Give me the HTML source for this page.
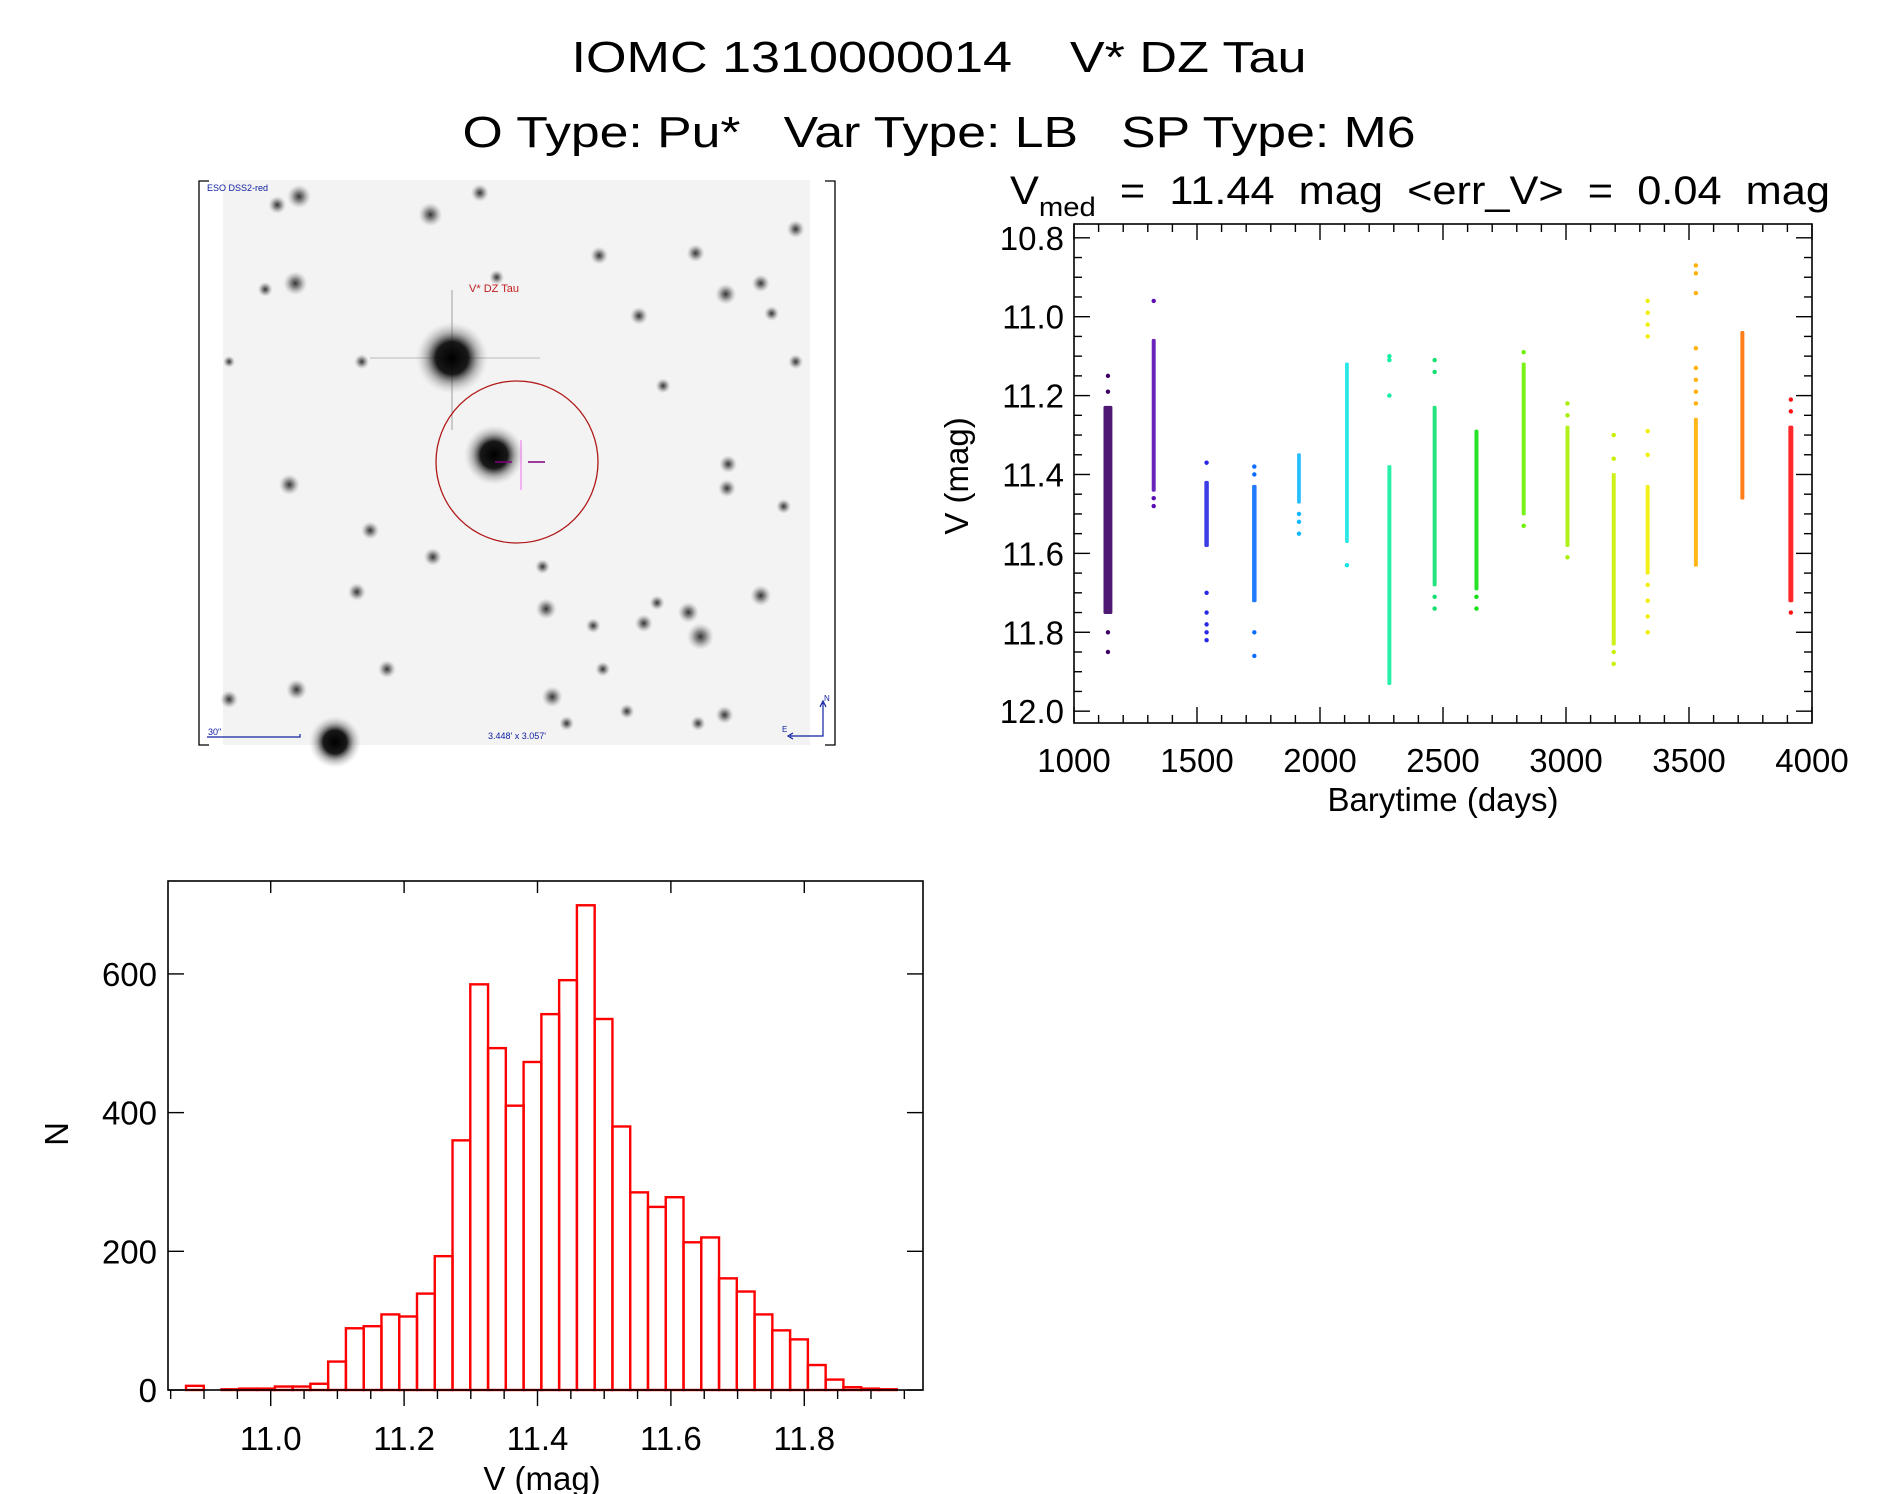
<!DOCTYPE html>
<html><head><meta charset="utf-8"><style>
html,body{margin:0;padding:0;background:#fff;}
svg{display:block;font-family:"Liberation Sans",sans-serif;}
text{white-space:pre;}
</style></head><body>
<svg id="root" width="1889" height="1494" viewBox="0 0 1889 1494" xmlns="http://www.w3.org/2000/svg" xml:space="preserve">
<defs>
<radialGradient id="star"><stop offset="0" stop-color="#111" stop-opacity="0.85"/><stop offset="0.4" stop-color="#333" stop-opacity="0.55"/><stop offset="1" stop-color="#999" stop-opacity="0"/></radialGradient>
<radialGradient id="bstar"><stop offset="0" stop-color="#000" stop-opacity="1"/><stop offset="0.45" stop-color="#000" stop-opacity="0.9"/><stop offset="0.7" stop-color="#444" stop-opacity="0.4"/><stop offset="1" stop-color="#aaa" stop-opacity="0"/></radialGradient>
</defs>
<rect width="1889" height="1494" fill="#fff"/>
<text x="939" y="72" text-anchor="middle" font-size="44" textLength="735" lengthAdjust="spacingAndGlyphs">IOMC 1310000014    V* DZ Tau</text>
<text x="939" y="147" text-anchor="middle" font-size="44" textLength="953" lengthAdjust="spacingAndGlyphs">O Type: Pu*   Var Type: LB   SP Type: M6</text>

<g id="img"></g>
<g id="lc"></g>
<g id="hist"></g>
</svg>
<script>
// ---------- Light curve data ----------
const seasonStart = [1126,1322,1536,1730,1913,2108,2280,2464,2634,2826,3004,3192,3330,3526,3715,3910];
const seasonEnd   = [1150,1326,1542,1736,1916,2111,2284,2468,2638,2830,3008,3196,3334,3530,3719,3918];
const coreLo = [11.23,11.06,11.42,11.43,11.35,11.12,11.38,11.23,11.29,11.12,11.28,11.40,11.43,11.26,11.04,11.28];
const coreHi = [11.75,11.44,11.58,11.72,11.47,11.57,11.93,11.68,11.69,11.50,11.58,11.83,11.65,11.63,11.46,11.72];
const outliers = [
  [11.15,11.19,11.80,11.85],
  [10.96,11.46,11.48],
  [11.37,11.70,11.75,11.78,11.80,11.82],
  [11.38,11.40,11.80,11.86],
  [11.50,11.52,11.55],
  [11.63],
  [11.10,11.11,11.20],
  [11.11,11.14,11.71,11.74],
  [11.71,11.74],
  [11.09,11.53],
  [11.22,11.25,11.61],
  [11.30,11.36,11.85,11.88],
  [10.96,10.99,11.02,11.05,11.29,11.35,11.68,11.72,11.76,11.80],
  [10.87,10.89,10.94,11.08,11.13,11.16,11.19,11.22],
  [],
  [11.21,11.24,11.75]
];
const seasonColors = ["#3c0064","#5a0cb4","#2828e6","#0a6cff","#10b8ff","#10e4e4","#10f0a0","#10e070","#10e010","#6cf000","#a8f000","#c8f000","#f0f000","#ffb000","#ff7000","#ff1010"];
const lcXTicks = [1000,1500,2000,2500,3000,3500,4000];
const lcYTicks = [10.8,11.0,11.2,11.4,11.6,11.8,12.0];

// ---------- Histogram data ----------
const histStart = 10.873, histBin = 0.02664;
const histCounts = [6,0,1,2,2,5,5,9,41,89,92,109,106,139,193,360,585,493,410,473,542,591,699,535,380,285,264,278,213,220,161,142,109,86,73,36,15,4,2,1];
const histXTicks = [11.0,11.2,11.4,11.6,11.8];
const histYTicks = [0,200,400,600];

const NS="http://www.w3.org/2000/svg";
function mk(parent,tag,attrs,txt){const e=document.createElementNS(NS,tag);for(const k in attrs)e.setAttribute(k,attrs[k]);if(txt!==undefined)e.textContent=txt;parent.appendChild(e);return e;}

// ---------- Sky image ----------
(function(){
  const g=document.getElementById('img');
  const S=1.2056;
  const bg=mk(g,'rect',{x:223,y:180,width:587,height:565,fill:'#f3f3f3'});
  
  
  const stars=[[248,163,8],[357,178,8],[398,160,6],[245,235,8],[602,244,7],[631,235,6],[530,262,6],[497,212,6],[577,210,6],[660,190,6],[240,402,7],[603,405,6],[604,385,6],[307,440,6],[453,505,7],[581,528,9],[571,508,7],[534,517,6],[631,494,7],[458,578,7],[246,572,7],[359,462,6],[296,491,6],[190,580,6],[601,593,6],[579,600,5],[545,500,5],[321,555,6],[500,555,5],[492,519,5],[550,320,5],[640,260,5],[300,300,5],[220,240,5],[190,300,4],[660,300,5],[230,170,6],[412,230,5],[650,420,5],[450,470,5],[520,590,5],[470,600,5]];
  stars.forEach(s=>{const c=mk(g,'circle',{cx:s[0]*S,cy:s[1]*S,r:s[2]*1.5,fill:'url(#star)'});
    
    });
  mk(g,'line',{x1:452,y1:290,x2:452,y2:430,stroke:'#bbb','stroke-width':1.5});
  mk(g,'line',{x1:370,y1:358,x2:540,y2:358,stroke:'#ccc','stroke-width':1.5});
  [[452,358,36],[494,455,30],[335,742,26]].forEach(s=>{
    const c=mk(g,'circle',{cx:s[0],cy:s[1],r:s[2],fill:'url(#bstar)'});
    
    });
  const circ=mk(g,'ellipse',{cx:517,cy:462,rx:81,ry:81,fill:'none',stroke:'#b01818','stroke-width':1.3});
  
  
  mk(g,'line',{x1:521,y1:440,x2:521,y2:490,stroke:'#f070f0','stroke-width':1});
  mk(g,'line',{x1:495,y1:462,x2:512,y2:462,stroke:'#800080','stroke-width':1.5});
  mk(g,'line',{x1:528,y1:462,x2:545,y2:462,stroke:'#800080','stroke-width':1.5});
  const t1=mk(g,'text',{x:207,y:191,'font-size':9,fill:'#1020a0'},'ESO DSS2-red');
  
  
  const t2=mk(g,'text',{x:494,y:292,'font-size':11,fill:'#c02020','text-anchor':'middle'},'V* DZ Tau');
  
  
  const t3=mk(g,'text',{x:517,y:739,'font-size':9,fill:'#1020a0','text-anchor':'middle'},"3.448' x 3.057'");
  
  
  const t4=mk(g,'text',{x:208,y:735,'font-size':9,fill:'#1020a0'},'30"');
  
  
  mk(g,'path',{d:'M207,737 H300 V734',fill:'none',stroke:'#1020a0','stroke-width':1.2});
  mk(g,'path',{d:'M790,736 H823 V703 M820,707 L823,701 L826,707 M793,733 L788,736 L793,739',fill:'none',stroke:'#1020a0','stroke-width':1.2});
  mk(g,'text',{x:824,y:701,'font-size':8,fill:'#1020a0'},'N');
  mk(g,'text',{x:782,y:732,'font-size':8,fill:'#1020a0'},'E');
  const fr=mk(g,'path',{d:'M209,181 H199 V745 H209 M825,181 H835 V745 H825',fill:'none',stroke:'#000','stroke-width':1.3});
  
  
})();

// ---------- Light curve ----------
(function(){
  const g=document.getElementById('lc');
  const L=1074,R=1812,T=224,B=723;
  const x0=1000,x1=4000,y0=10.765,y1=12.03;
  const X=v=>L+(v-x0)/(x1-x0)*(R-L);
  const Y=v=>T+(v-y0)/(y1-y0)*(B-T);
  const tt=mk(g,'text',{x:1010,y:204,'font-size':40},'');
  
  
  tt.innerHTML='V<tspan font-size="27" dy="12">med</tspan><tspan dy="-12">  =  11.44  mag  &lt;err_V&gt;  =  0.04  mag</tspan>';
  tt.setAttribute('textLength','820');
  tt.setAttribute('lengthAdjust','spacingAndGlyphs');
  for(let i=0;i<seasonStart.length;i++){
    const sg=mk(g,'g',{fill:seasonColors[i]});
    
    
    const xa=X(seasonStart[i]), xb=X(seasonEnd[i]);
    const core=mk(sg,'rect',{x:xa-1.5,y:Y(coreLo[i])-1.5,width:xb-xa+3,height:Y(coreHi[i])-Y(coreLo[i])+3,rx:1.5,'fill-opacity':0.9});
    
    
    const xm=(xa+xb)/2;
    outliers[i].forEach(v=>{const c=mk(sg,'circle',{cx:xm,cy:Y(v),r:2.2});
      
      });
  }
  const ax=mk(g,'rect',{x:L,y:T,width:R-L,height:B-T,fill:'none',stroke:'#000','stroke-width':1.6});
  
  
  for(let v=x0;v<=x1;v+=100){const maj=(v%500===0);const len=maj?16:8;
    mk(g,'line',{x1:X(v),y1:B,x2:X(v),y2:B-len,stroke:'#000','stroke-width':1.4});
    mk(g,'line',{x1:X(v),y1:T,x2:X(v),y2:T+len,stroke:'#000','stroke-width':1.4});}
  for(let k=0;k<=24;k++){const v=10.8+k*0.05;const maj=(k%4===0);const len=maj?16:8;
    mk(g,'line',{x1:L,y1:Y(v),x2:L+len,y2:Y(v),stroke:'#000','stroke-width':1.4});
    mk(g,'line',{x1:R,y1:Y(v),x2:R-len,y2:Y(v),stroke:'#000','stroke-width':1.4});}
  lcXTicks.forEach(v=>{const t=mk(g,'text',{x:X(v),y:772,'font-size':33,'text-anchor':'middle'},String(v));
    
    });
  lcYTicks.forEach(v=>{const t=mk(g,'text',{x:1064,y:Y(v)+12,'font-size':33,'text-anchor':'end'},v.toFixed(1));
    
    });
  const xl=mk(g,'text',{x:1443,y:811,'font-size':33,'text-anchor':'middle'},'Barytime (days)');
  
  
  const yl=mk(g,'text',{x:0,y:0,'font-size':33,'text-anchor':'middle',transform:'translate(968,476) rotate(-90)'},'V (mag)');
  
  
})();

// ---------- Histogram ----------
(function(){
  const g=document.getElementById('hist');
  const L=168,R=923,T=881,B=1390;
  const x0=10.846,x1=11.978,yMax=734;
  const X=v=>L+(v-x0)/(x1-x0)*(R-L);
  const Y=v=>B-v/yMax*(B-T);
  histCounts.forEach((c,i)=>{
    const a=X(histStart+i*histBin), b=X(histStart+(i+1)*histBin);
    const r=mk(g,'rect',{x:a,y:Y(c),width:b-a,height:B-Y(c),fill:'none',stroke:'#ff0000','stroke-width':2.4});
    
    
  });
  const ax=mk(g,'rect',{x:L,y:T,width:R-L,height:B-T,fill:'none',stroke:'#000','stroke-width':1.6});
  
  
  for(let k=0;k<=22;k++){const v=10.85+k*0.05;const maj=(Math.abs((v*10)-Math.round(v*10))<1e-6 && Math.round(v*10)%2===0);
    mk(g,'line',{x1:X(v),y1:B,x2:X(v),y2:B+(maj?16:9),stroke:'#000','stroke-width':1.4});}
  histXTicks.forEach(v=>{mk(g,'line',{x1:X(v),y1:T,x2:X(v),y2:T+12,stroke:'#000','stroke-width':1.4});
    const t=mk(g,'text',{x:X(v),y:1450,'font-size':33,'text-anchor':'middle'},v.toFixed(1));
    
    });
  histYTicks.forEach(v=>{mk(g,'line',{x1:L,y1:Y(v),x2:L+16,y2:Y(v),stroke:'#000','stroke-width':1.4});
    mk(g,'line',{x1:R,y1:Y(v),x2:R-16,y2:Y(v),stroke:'#000','stroke-width':1.4});
    const t=mk(g,'text',{x:157,y:Y(v)+12,'font-size':33,'text-anchor':'end'},String(v));
    
    });
  const xl=mk(g,'text',{x:542,y:1490,'font-size':33,'text-anchor':'middle'},'V (mag)');
  
  
  const yl=mk(g,'text',{x:0,y:0,'font-size':33,'text-anchor':'middle',transform:'translate(68,1134) rotate(-90)'},'N');
  
  
})();
</script>
</body></html>
